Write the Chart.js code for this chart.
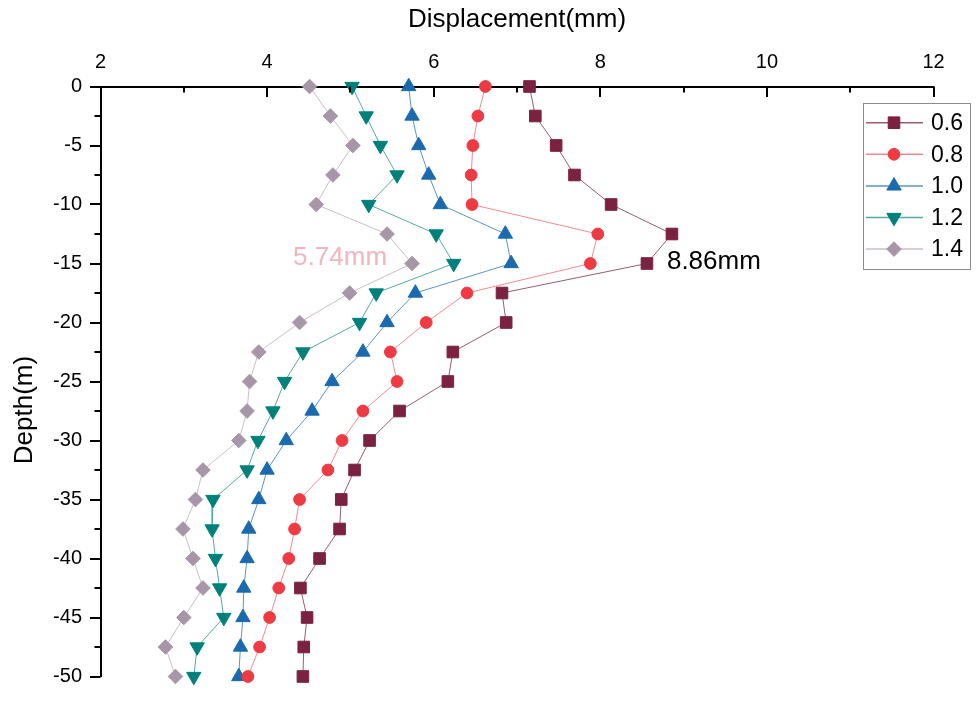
<!DOCTYPE html>
<html>
<head>
<meta charset="utf-8">
<script src="https://cdn.jsdelivr.net/npm/chart.js@4.4.0/dist/chart.umd.min.js"></script>
<style>
  html, body { margin: 0; padding: 0; background: #ffffff; }
  #wrap { width: 978px; height: 707px; }
</style>
</head>
<body>
<div id="wrap"><canvas id="c" width="978" height="707"></canvas></div>
<script>
// Depth of each measuring point (m)
const depths = [0, -2.5, -5, -7.5, -10, -12.5, -15, -17.5, -20, -22.5, -25,
                -27.5, -30, -32.5, -35, -37.5, -40, -42.5, -45, -47.5, -50];

// Series names
const seriesNames = ['0.6', '0.8', '1.0', '1.2', '1.4'];

// Horizontal displacement (mm) per series, top to bottom
const disp06 = [7.15, 7.22, 7.47, 7.69, 8.13, 8.86, 8.56, 6.82, 6.87, 6.23, 6.17,
                5.59, 5.23, 5.05, 4.89, 4.87, 4.63, 4.40, 4.48, 4.44, 4.43];
const disp08 = [6.62, 6.53, 6.47, 6.45, 6.46, 7.97, 7.88, 6.40, 5.91, 5.48, 5.56,
                5.15, 4.90, 4.73, 4.39, 4.33, 4.26, 4.14, 4.03, 3.91, 3.77];
const disp10 = [5.70, 5.74, 5.82, 5.94, 6.08, 6.86, 6.93, 5.78, 5.44, 5.15, 4.78,
                4.54, 4.23, 4.00, 3.90, 3.78, 3.76, 3.72, 3.71, 3.68, 3.66];
const disp12 = [5.02, 5.19, 5.36, 5.56, 5.22, 6.03, 6.24, 5.31, 5.11, 4.43, 4.21,
                4.07, 3.89, 3.76, 3.35, 3.34, 3.38, 3.43, 3.48, 3.16, 3.12];
const disp14 = [4.51, 4.76, 5.03, 4.79, 4.59, 5.44, 5.74, 4.99, 4.39, 3.90, 3.79,
                3.76, 3.66, 3.23, 3.14, 2.99, 3.11, 3.23, 3.00, 2.78, 2.90];

// Axis ranges and tick steps
const xRange = [2, 12];
const xMajorStep = 2;
const xMinorStep = 1;
const yRange = [-50, 0];
const yMajorStep = 5;
const yMinorStep = 2.5;

// Peak annotations: [text, series index, depth of annotated point]
const peakNotes = [
  ['8.86mm', 0, -12.5],
  ['5.74mm', 4, -15]
];

const FONT = "'Liberation Sans', Arial, Helvetica, sans-serif";

const styles = [
  { marker: '#7a2240', line: '#9a5c70', pointStyle: 'rect',     radius: 8.2, rotation: 0 },
  { marker: '#ee3b43', line: '#f48a8f', pointStyle: 'circle',   radius: 5.9, rotation: 0 },
  { marker: '#1b6aae', line: '#5a95ca', pointStyle: 'triangle', radius: 8.3, rotation: 0 },
  { marker: '#00807a', line: '#55aaa4', pointStyle: 'triangle', radius: 8.3, rotation: 180 },
  { marker: '#a796a7', line: '#cbbdca', pointStyle: 'rectRot',  radius: 7.3, rotation: 0 }
];

const seriesValues = [disp06, disp08, disp10, disp12, disp14];

const datasets = seriesValues.map((vals, i) => ({
  label: seriesNames[i],
  data: vals.map((v, k) => ({ x: v, y: depths[k] })),
  showLine: true,
  borderColor: styles[i].line,
  borderWidth: 1,
  tension: 0,
  pointStyle: styles[i].pointStyle,
  pointRotation: styles[i].rotation,
  pointRadius: styles[i].radius,
  pointBackgroundColor: styles[i].marker,
  pointBorderColor: styles[i].marker,
  pointBorderWidth: 1,
  clip: false
}));

// Tick marks (major + minor), axis titles, peak notes and the framed legend
const decorPlugin = {
  id: 'decor',
  afterDraw(chart) {
    const ctx = chart.ctx;
    const xs = chart.scales.x;
    const ys = chart.scales.y;
    const area = chart.chartArea;
    ctx.save();

    // x ticks point down into the plot from the top axis
    ctx.strokeStyle = '#000';
    ctx.lineWidth = 2;
    for (let v = xRange[0]; v <= xRange[1] + 1e-9; v += xMinorStep) {
      const px = Math.round(xs.getPixelForValue(v));
      const major = Math.abs((v - xRange[0]) % xMajorStep) < 1e-9;
      const len = major ? 10.5 : 6;
      ctx.beginPath();
      ctx.moveTo(px, area.top);
      ctx.lineTo(px, area.top + len);
      ctx.stroke();
    }
    // y ticks point outward to the left
    for (let v = yRange[0]; v <= yRange[1] + 1e-9; v += yMinorStep) {
      const py = Math.round(ys.getPixelForValue(v));
      const major = Math.abs(v % yMajorStep) < 1e-9;
      const len = major ? 10.5 : 6;
      ctx.beginPath();
      ctx.moveTo(area.left, py);
      ctx.lineTo(area.left - len, py);
      ctx.stroke();
    }

    // Axis titles
    ctx.fillStyle = '#000';
    ctx.font = '26px ' + FONT;
    ctx.textAlign = 'center';
    ctx.textBaseline = 'middle';
    ctx.fillText('Displacement(mm)', (area.left + area.right) / 2, 20);
    ctx.save();
    ctx.translate(25, 410);
    ctx.rotate(-Math.PI / 2);
    ctx.fillText('Depth(m)', 0, 0);
    ctx.restore();

    // Peak notes
    ctx.font = '26px ' + FONT;
    ctx.textBaseline = 'middle';
    {
      const [txt, si, d] = peakNotes[0];
      const k = depths.indexOf(d);
      const px = xs.getPixelForValue(seriesValues[si][k]);
      const py = ys.getPixelForValue(d);
      ctx.fillStyle = '#000';
      ctx.textAlign = 'left';
      ctx.fillText(txt, px - 5, py + 28);
    }
    {
      const [txt, si, d] = peakNotes[1];
      const k = depths.indexOf(d);
      const px = xs.getPixelForValue(seriesValues[si][k]);
      const py = ys.getPixelForValue(d);
      ctx.fillStyle = '#f4b4be';
      ctx.textAlign = 'right';
      ctx.fillText(txt, px - 25, py - 6);
    }

    // Legend
    const box = { x: 863.5, y: 103.5, w: 107, h: 166 };
    ctx.strokeStyle = '#8c8c8c';
    ctx.lineWidth = 1;
    ctx.strokeRect(box.x, box.y, box.w, box.h);
    ctx.font = '23px ' + FONT;
    ctx.textAlign = 'left';
    ctx.textBaseline = 'middle';
    seriesNames.forEach((name, i) => {
      const cy = 122.7 + i * 31.6;
      ctx.strokeStyle = styles[i].line;
      ctx.lineWidth = 1.5;
      ctx.beginPath();
      ctx.moveTo(866, cy);
      ctx.lineTo(923, cy);
      ctx.stroke();
      ctx.fillStyle = styles[i].marker;
      ctx.strokeStyle = styles[i].marker;
      ctx.lineWidth = 1;
      Chart.helpers.drawPoint(ctx, {
        pointStyle: styles[i].pointStyle,
        radius: styles[i].radius,
        rotation: styles[i].rotation,
        borderWidth: 1
      }, 894, cy);
      ctx.fillStyle = '#000';
      ctx.fillText(name, 931, cy + 1);
    });

    ctx.restore();
  }
};

new Chart(document.getElementById('c'), {
  type: 'scatter',
  data: { datasets },
  options: {
    responsive: false,
    animation: false,
    devicePixelRatio: 1,
    layout: { padding: { left: 0, top: 0, right: 44.5, bottom: 9.5 } },
    plugins: {
      legend: { display: false },
      tooltip: { enabled: false }
    },
    scales: {
      x: {
        type: 'linear',
        position: 'top',
        min: xRange[0],
        max: xRange[1],
        afterFit(scale) { scale.height = 86.5; },
        grid: { display: false, drawTicks: false },
        border: { display: true, color: '#000', width: 2 },
        ticks: {
          stepSize: xMajorStep,
          padding: 12,
          color: '#000',
          font: { family: FONT, size: 20 },
          maxRotation: 0
        }
      },
      y: {
        type: 'linear',
        position: 'left',
        min: yRange[0],
        max: yRange[1],
        afterFit(scale) { scale.width = 100.5; },
        grid: { display: false, drawTicks: false },
        border: { display: true, color: '#000', width: 2 },
        ticks: {
          stepSize: yMajorStep,
          padding: 18.5,
          color: '#000',
          font: { family: FONT, size: 20 }
        }
      }
    }
  },
  plugins: [decorPlugin]
});
</script>
</body>
</html>
